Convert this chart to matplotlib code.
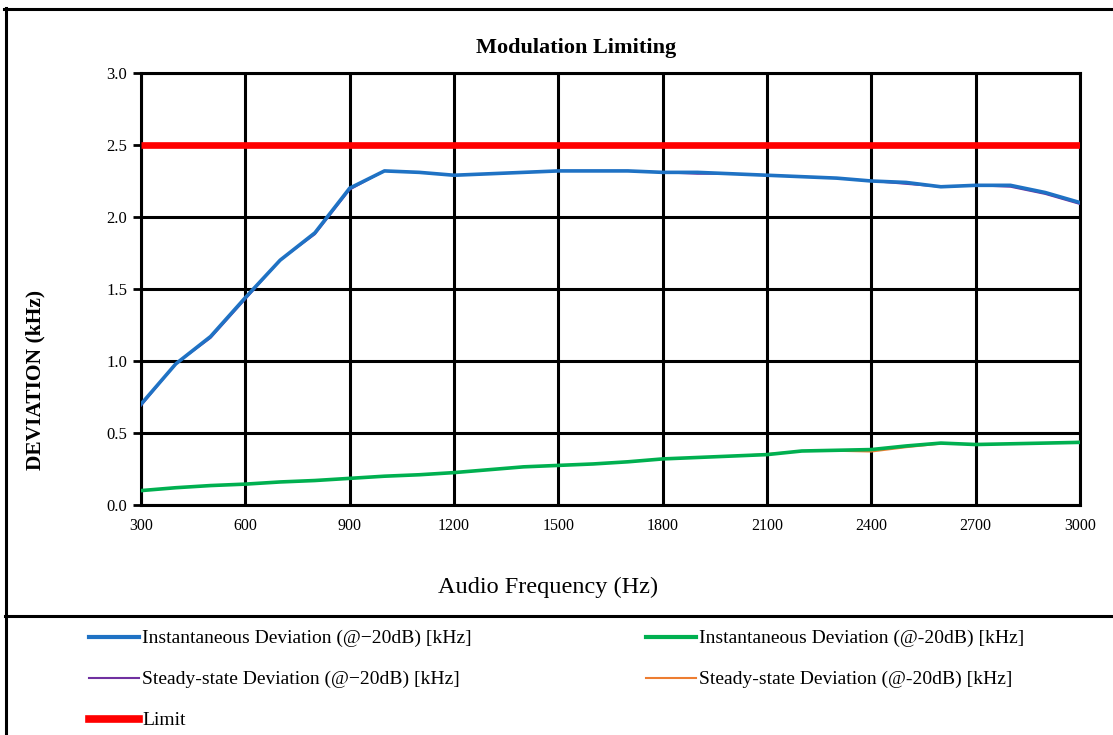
import numpy as np
import matplotlib.pyplot as plt
from matplotlib.lines import Line2D

# audio frequency points (Hz)
freq = [300, 400, 500, 600, 700, 800, 900, 1000, 1100, 1200, 1300, 1400, 1500, 1600,
        1700, 1800, 1900, 2000, 2100, 2200, 2300, 2400, 2500, 2600, 2700, 2800, 2900, 3000]

# deviation in kHz
inst_hi = [0.70, 0.98, 1.17, 1.44, 1.70, 1.89, 2.20, 2.32, 2.31, 2.29, 2.30, 2.31, 2.32, 2.32,
           2.32, 2.31, 2.31, 2.30, 2.29, 2.28, 2.27, 2.25, 2.24, 2.21, 2.22, 2.22, 2.17, 2.10]
steady_hi = [0.69, 0.98, 1.16, 1.43, 1.70, 1.88, 2.19, 2.32, 2.31, 2.29, 2.30, 2.31, 2.32, 2.32,
             2.32, 2.31, 2.30, 2.30, 2.29, 2.28, 2.27, 2.25, 2.23, 2.21, 2.22, 2.21, 2.16, 2.09]
inst_lo = [0.10, 0.12, 0.135, 0.145, 0.16, 0.17, 0.185, 0.20, 0.21, 0.225, 0.245, 0.265, 0.275, 0.285,
           0.30, 0.32, 0.33, 0.34, 0.35, 0.375, 0.38, 0.385, 0.41, 0.43, 0.42, 0.425, 0.43, 0.435]
steady_lo = [0.10, 0.12, 0.135, 0.145, 0.16, 0.17, 0.185, 0.20, 0.21, 0.225, 0.245, 0.265, 0.275, 0.285,
             0.30, 0.32, 0.33, 0.34, 0.355, 0.375, 0.375, 0.37, 0.40, 0.425, 0.425, 0.425, 0.43, 0.44]
limit = [2.5] * len(freq)

labels = ["Instantaneous Deviation (@\u221220dB) [kHz]",
          "Instantaneous Deviation (@-20dB) [kHz]",
          "Steady-state Deviation (@\u221220dB) [kHz]",
          "Steady-state Deviation (@-20dB) [kHz]",
          "Limit"]

serif = ['Liberation Serif', 'DejaVu Serif']
plt.rcParams['font.family'] = serif

W, H = 1113, 735
fig = plt.figure(figsize=(W / 100, H / 100), dpi=100)
ax = fig.add_axes([141 / W, 1 - 505 / H, (1080 - 141) / W, (505 - 73) / H])

ax.plot(freq, limit, color='#ff0000', lw=4.8, solid_capstyle='butt', zorder=3)
ax.plot(freq, steady_lo, color='#ed7d31', lw=1.2, zorder=3)
ax.plot(freq, inst_lo, color='#00b050', lw=2.6, zorder=3)
ax.plot(freq, steady_hi, color='#7030a0', lw=1.4, zorder=3)
ax.plot(freq, inst_hi, color='#1f72c4', lw=2.6, zorder=3)

ax.set_xlim(300, 3000)
ax.set_ylim(0, 3.0)
ax.set_xticks(np.arange(300, 3001, 300))
ax.set_yticks(np.arange(0, 3.01, 0.5))
ax.set_yticklabels(['%.1f' % v for v in np.arange(0, 3.01, 0.5)])
ax.grid(True, color='black', lw=2.2)
ax.set_axisbelow(True)
for s in ax.spines.values():
    s.set_linewidth(2.2)
ax.tick_params(axis='x', length=0, pad=9, labelsize=11.5)
ax.tick_params(axis='y', length=6, width=2, pad=4, labelsize=12)

fig.text(576 / W, 1 - 48 / H, "Modulation Limiting", ha='center', va='center',
         fontsize=16, fontweight='bold')
fig.text(548 / W, 1 - 587 / H, "Audio Frequency (Hz)", ha='center', va='center', fontsize=17.5)
fig.text(35 / W, 1 - 380 / H, "DEVIATION (kHz)", ha='center', va='center',
         rotation=90, fontsize=15.5, fontweight='bold')

# frame lines around chart and legend area
for xs, ys in [([4, W], [8.5, 8.5]), ([5.5, 5.5], [8, H]), ([5, W], [616, 616])]:
    fig.add_artist(Line2D([x / W for x in xs], [1 - y / H for y in ys],
                          color='black', lw=2.2, transform=fig.transFigure))

h_blue = Line2D([], [], color='#1f72c4', lw=3)
h_green = Line2D([], [], color='#00b050', lw=3)
h_purple = Line2D([], [], color='#7030a0', lw=1.5)
h_orange = Line2D([], [], color='#ed7d31', lw=1.5)
h_red = Line2D([], [], color='#ff0000', lw=5.5)

leg_kw = dict(loc='upper left', frameon=False, borderpad=0, handlelength=2.6,
              handletextpad=0.15, labelspacing=1.2, prop={'size': 14})
fig.legend([h_blue, h_purple, h_red], [labels[0], labels[2], labels[4]],
           bbox_to_anchor=(79 / W, 1 - 620 / H), **leg_kw)
fig.legend([h_green, h_orange], [labels[1], labels[3]],
           bbox_to_anchor=(636 / W, 1 - 620 / H), **leg_kw)

fig.savefig('out.png', dpi=100)
